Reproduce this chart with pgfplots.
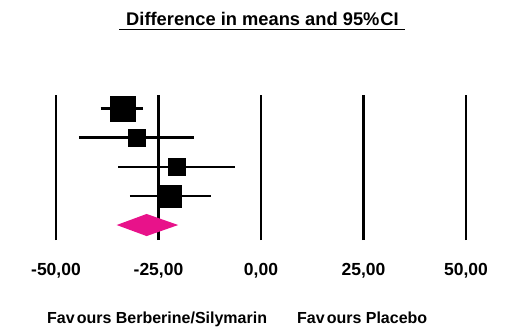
\documentclass[border=0pt]{standalone}
\usepackage{fontspec}
\setmainfont{Liberation Sans}
\usepackage{pgfplots}
\pgfplotsset{compat=1.18}
\definecolor{diam}{RGB}{232,18,138}
\begin{document}
\begin{tikzpicture}
\path[use as bounding box] (0,0) rectangle (505pt,327pt);
\begin{axis}[
  at={(56pt,87pt)}, anchor=south west,
  scale only axis, width=410pt, height=145pt,
  xmin=-50, xmax=50, ymin=0.485, ymax=5.467,
  axis line style={draw=none},
  major tick length=0pt,
  xtick={-50,-25,0,25,50},
  xticklabels={{-50,00},{-25,00},{0,00},{25,00},{50,00}},
  ytick=\empty,
  xmajorgrids,
  major grid style={black, line width=2.3pt},
  xticklabel style={anchor=base, yshift=-35pt, font=\fontsize{17.5}{20}\selectfont\bfseries},
  clip=false,
]
% confidence intervals
\addplot[black, line width=2.5pt] coordinates {(-39.1,5) (-28.7,5)};
\addplot[black, line width=2.5pt] coordinates {(-44.4,4) (-16.3,4)};
\addplot[black, line width=2.5pt] coordinates {(-34.8,3) (-6.3,3)};
\addplot[black, line width=2.5pt] coordinates {(-32.0,2) (-12.3,2)};
% point estimates
\addplot[only marks, mark=square*, mark size=12.3pt, mark options={draw=none, fill=black}] coordinates {(-33.8,5)};
\addplot[only marks, mark=square*, mark size=8.3pt, mark options={draw=none, fill=black}] coordinates {(-30.3,4)};
\addplot[only marks, mark=square*, mark size=8.4pt, mark options={draw=none, fill=black}] coordinates {(-20.6,3)};
\addplot[only marks, mark=square*, mark size=11pt, mark options={draw=none, fill=black}] coordinates {(-22.2,2)};
% summary diamond
\addplot[fill=diam, draw=none] coordinates {(-35.2,1) (-27.9,1.38) (-20.2,1) (-27.9,0.62)};
\end{axis}
\node[anchor=base, font=\fontsize{18.3}{20}\selectfont\bfseries] at (262.5pt,301pt) {Difference in means and 95\%\kern1pt CI};
\draw[line width=1.3pt] (119pt,297.5pt) -- (405pt,297.5pt);
\node[anchor=base west, inner sep=0pt, font=\fontsize{16}{18}\selectfont\bfseries] at (47pt,4pt) {Fav\kern2pt ours Berberine/Silymarin};
\node[anchor=base west, inner sep=0pt, font=\fontsize{16}{18}\selectfont\bfseries] at (297pt,4pt) {Fav\kern2pt ours Placebo};
\end{tikzpicture}
\end{document}
